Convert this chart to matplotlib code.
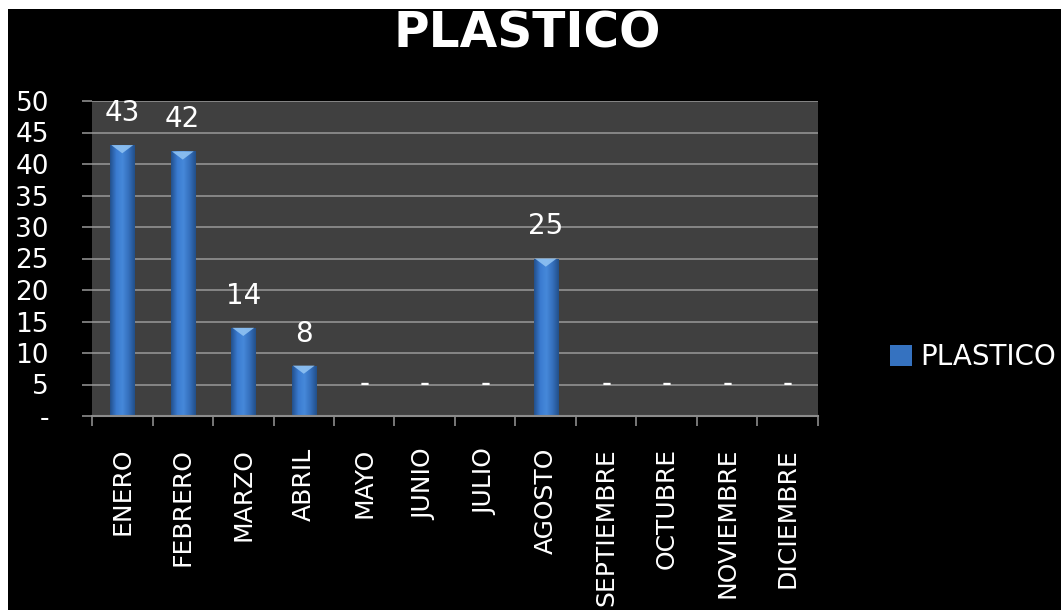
import matplotlib
matplotlib.use("Agg")
import matplotlib.pyplot as plt
import numpy as np
from matplotlib.patches import Rectangle, Polygon
from matplotlib.colors import LinearSegmentedColormap

# data
meses = ['ENERO', 'FEBRERO', 'MARZO', 'ABRIL', 'MAYO', 'JUNIO', 'JULIO',
         'AGOSTO', 'SEPTIEMBRE', 'OCTUBRE', 'NOVIEMBRE', 'DICIEMBRE']
plastico = [43, 42, 14, 8, 0, 0, 0, 25, 0, 0, 0, 0]
y_ticks = [0, 5, 10, 15, 20, 25, 30, 35, 40, 45, 50]
y_labels = ['-' if t == 0 else str(t) for t in y_ticks]

fig = plt.figure(figsize=(10.64, 6.10), dpi=100, facecolor='white')
# black chart area with a thin white margin on top/left/right
fig.add_artist(Rectangle((8 / 1064, 0), (1061 - 8) / 1064, (610 - 9) / 610,
                         transform=fig.transFigure, facecolor='black',
                         edgecolor='none', zorder=-10))

ax = fig.add_axes([92 / 1064, 1 - 416 / 610, (818 - 92) / 1064, (416 - 101) / 610])
ax.set_facecolor('#404040')

x = np.arange(len(meses))
bars = ax.bar(x, plastico, width=0.4, color='#3572c0', label='PLASTICO', zorder=2)

# cylinder-like shading on each bar
cmap = LinearSegmentedColormap.from_list('barra', ['#23508c', '#3a7bd0', '#4689da', '#3570bd', '#22508a'])
grad = np.linspace(0, 1, 64).reshape(1, -1)
for p in bars:
    h = p.get_height()
    if h <= 0:
        continue
    x0, w = p.get_x(), p.get_width()
    im = ax.imshow(grad, cmap=cmap, extent=(x0, x0 + w, 0, h), aspect='auto', zorder=2.1)
    im.set_clip_path(p)
    # light bevel at the top
    ax.add_patch(Polygon([(x0 + 0.02, h), (x0 + w - 0.02, h), (x0 + w / 2, h - 1.3)],
                         closed=True, facecolor='#8fc2f2', edgecolor='none', alpha=0.9, zorder=2.2))

labels = ['-' if v == 0 else str(v) for v in plastico]
ax.bar_label(bars, labels=labels, padding=13, color='white', fontsize=20)

ax.set_xlim(-0.5, len(meses) - 0.5)
ax.set_ylim(0, 50)

ax.set_yticks(y_ticks)
ax.set_yticklabels(y_labels)
ax.tick_params(axis='y', colors='#8c8c8c', labelcolor='white', labelsize=19,
               length=7, width=1.2, pad=24)

ax.set_xticks(x)
ax.set_xticklabels(meses, rotation=90, va='top', ha='center')
ax.set_xticks(np.arange(len(meses) + 1) - 0.5, minor=True)
ax.tick_params(axis='x', which='major', length=0, labelcolor='white', labelsize=18, pad=23)
ax.tick_params(axis='x', which='minor', length=7, width=1.2, colors='#8c8c8c')

ax.set_axisbelow(True)
ax.yaxis.grid(True, color='#8c8c8c', linewidth=1.3)
for s in ['top', 'right', 'left']:
    ax.spines[s].set_visible(False)
ax.spines['bottom'].set_color('#8c8c8c')
ax.spines['bottom'].set_linewidth(1.5)

fig.text(527 / 1064, 1 - 48 / 610, 'PLASTICO', ha='center', va='baseline',
         fontsize=35, fontweight='bold', color='white')

leg = fig.legend(handles=[bars], labels=['PLASTICO'], loc='center left',
                 bbox_to_anchor=(876 / 1064, 1 - 357 / 610), frameon=False,
                 fontsize=20, handlelength=0.8, handleheight=0.8,
                 handletextpad=0.3, borderpad=0)
for t in leg.get_texts():
    t.set_color('white')

fig.savefig('out.png', dpi=100, facecolor=fig.get_facecolor())
